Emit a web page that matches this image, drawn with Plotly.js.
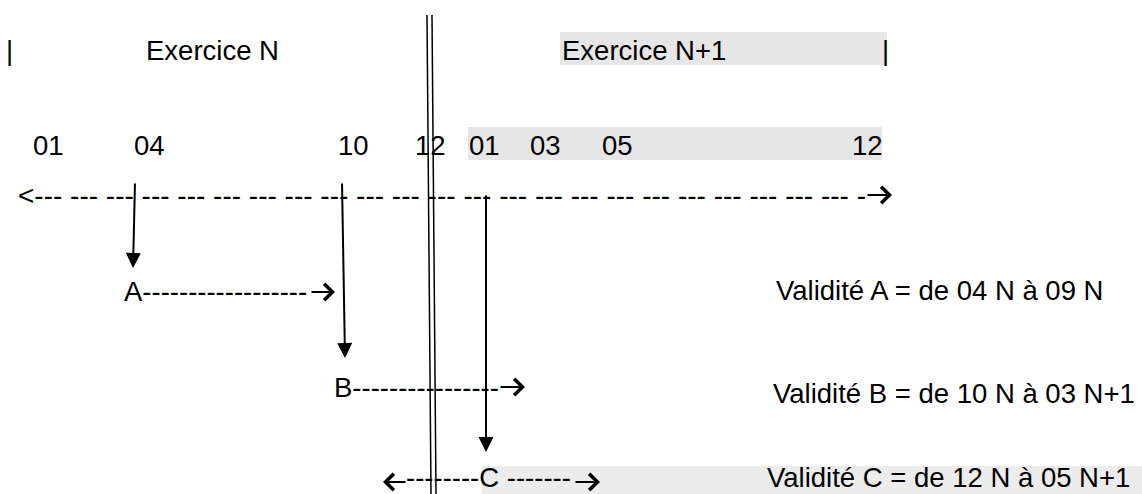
<!DOCTYPE html>
<html>
<head>
<meta charset="utf-8">
<script src="https://cdn.plot.ly/plotly-3.0.1.min.js"></script>
<style>
  html, body { margin: 0; padding: 0; background: #ffffff; }
  #chart { width: 1142px; height: 494px; }
</style>
</head>
<body>
<div id="chart"></div>
<script>
// ---- data ----
const exercices = ['Exercice N', 'Exercice N+1'];
const monthsN = ['01', '04', '10', '12'];
const monthsN1 = ['01', '03', '05', '12'];
const items = ['A', 'B', 'C'];
const startLabels = ['04 N', '10 N', '12 N'];
const endLabels = ['09 N', '03 N+1', '05 N+1'];

// ---- layout positions (pixels in a 1142 x 494 frame) ----
const FONT = 'Liberation Sans, Arial, sans-serif';
const FS = 27.5;
const exerciceX = [145, 561];
const exerciceY = 50;
const monthXN = [32, 133, 337, 414];
const monthXN1 = [468, 529, 601, 851];
const monthY = 145;
const timelineY = 195;
const rowY = [291, 387];
const validX = [775, 772, 766];
const validY = [290, 393];
// vertical arrows: [tailX, tailY, tipX, tipY]
const arrowGeom = [[135, 182, 133, 268], [342, 182, 345, 358], [486, 194, 486, 452]];
// horizontal arrow glyphs: [tailX, tipX, y]
const hArrows = [[866, 892, 195], [310, 335, 292], [499, 525, 387], [574, 600, 482], [407, 383, 482]];

const annotations = [];
const shapes = [];

function txt(x, y, s, extra) {
  annotations.push(Object.assign({
    x: x, y: y, xref: 'x', yref: 'y', text: s, showarrow: false,
    xanchor: 'left', yanchor: 'middle', borderpad: 0,
    font: { family: FONT, size: FS, color: '#000000' }
  }, extra || {}));
}

// gray backgrounds
shapes.push({ type: 'rect', xref: 'x', yref: 'y', x0: 560, x1: 887, y0: 32, y1: 65,
  fillcolor: '#e6e6e6', line: { width: 0 }, layer: 'below' });
shapes.push({ type: 'rect', xref: 'x', yref: 'y', x0: 468, x1: 882, y0: 127, y1: 160,
  fillcolor: '#e6e6e6', line: { width: 0 }, layer: 'below' });
shapes.push({ type: 'rect', xref: 'x', yref: 'y', x0: 482, x1: 1142, y0: 466, y1: 494,
  fillcolor: '#ececec', line: { width: 0 }, layer: 'below' });

// exercice headers with boundary bars
txt(5, exerciceY, '|');
txt(exerciceX[0], exerciceY, exercices[0]);
txt(exerciceX[1], exerciceY, exercices[1]);
txt(881, exerciceY, '|');

// month labels
monthsN.forEach((m, i) => txt(monthXN[i], monthY, m));
monthsN1.forEach((m, i) => txt(monthXN1[i], monthY, m));

// dashed time line
txt(17, timelineY, '<' + '--- '.repeat(23) + '-', { font: { family: FONT, size: 28, color: '#000' } });

// year boundary double line
shapes.push({ type: 'line', xref: 'x', yref: 'y', x0: 427, y0: 15, x1: 431, y1: 494, line: { color: '#000', width: 1.5 } });
shapes.push({ type: 'line', xref: 'x', yref: 'y', x0: 432, y0: 15, x1: 436, y1: 494, line: { color: '#000', width: 1.5 } });

// vertical arrows from start month
arrowGeom.forEach(g => {
  annotations.push({
    x: g[2], y: g[3], ax: g[0], ay: g[1], xref: 'x', yref: 'y', axref: 'x', ayref: 'y',
    text: '', showarrow: true, arrowhead: 2, arrowsize: 1.5, arrowwidth: 2,
    arrowcolor: '#000', standoff: 0, startstandoff: 0
  });
});

// horizontal arrow glyphs (open chevron heads)
hArrows.forEach(h => {
  annotations.push({
    x: h[1], y: h[2], ax: h[0], ay: h[2], xref: 'x', yref: 'y', axref: 'x', ayref: 'y',
    text: '', showarrow: true, arrowhead: 4, arrowsize: 1.6, arrowwidth: 2,
    arrowcolor: '#000', standoff: 0, startstandoff: 0
  });
});

// validity rows
txt(123, rowY[0], items[0] + '-'.repeat(18));
txt(333, rowY[1], items[1] + '-'.repeat(16));
txt(405, 494, '-'.repeat(8) + items[2] + ' ' + '-'.repeat(7), { yanchor: 'bottom' });

txt(validX[0], validY[0], 'Validit\u00e9 ' + items[0] + ' = de ' + startLabels[0] + ' \u00e0 ' + endLabels[0]);
txt(validX[1], validY[1], 'Validit\u00e9 ' + items[1] + ' = de ' + startLabels[1] + ' \u00e0 ' + endLabels[1]);
txt(validX[2], 494, 'Validit\u00e9 ' + items[2] + ' = de ' + startLabels[2] + ' \u00e0 ' + endLabels[2], { yanchor: 'bottom' });

const layout = {
  width: 1142, height: 494,
  margin: { l: 0, r: 0, t: 0, b: 0, pad: 0 },
  paper_bgcolor: '#ffffff', plot_bgcolor: '#ffffff',
  xaxis: { range: [0, 1142], visible: false, fixedrange: true },
  yaxis: { range: [494, 0], visible: false, fixedrange: true },
  showlegend: false,
  annotations: annotations,
  shapes: shapes
};

Plotly.newPlot('chart', [], layout, { displayModeBar: false, staticPlot: true });
</script>
</body>
</html>
